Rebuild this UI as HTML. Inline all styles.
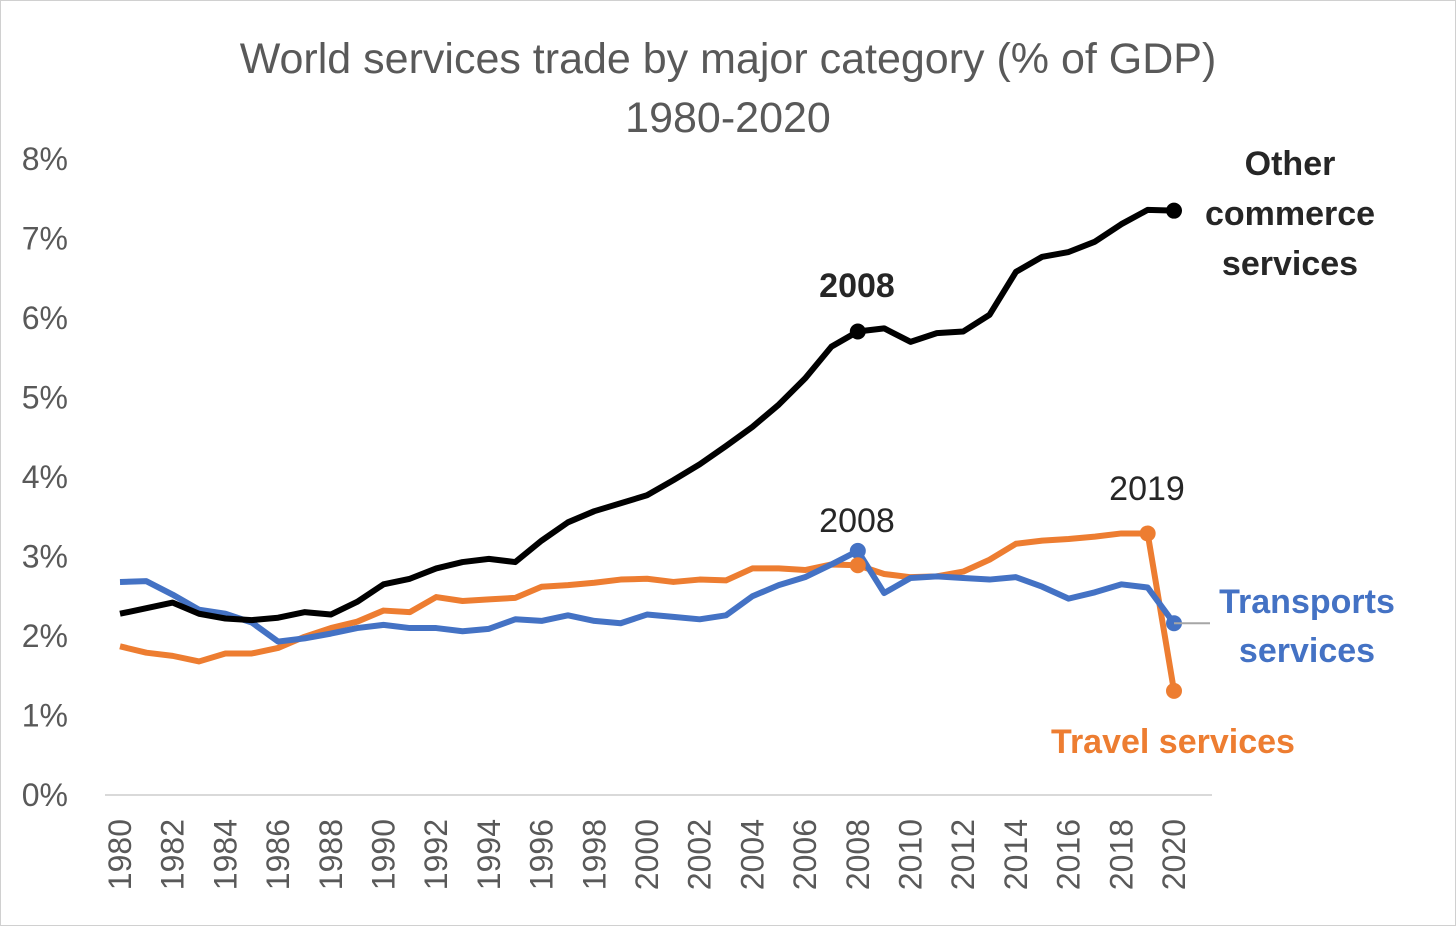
<!DOCTYPE html>
<html><head><meta charset="utf-8"><style>
body{margin:0;background:#fff}
svg text{font-family:"Liberation Sans",sans-serif}
</style></head><body>
<svg id="chart" width="1456" height="926" viewBox="0 0 1456 926" xmlns="http://www.w3.org/2000/svg">
<rect x="0.5" y="0.5" width="1455" height="925" fill="#fff" stroke="#d0d0d0"/>
<text x="728" y="73" text-anchor="middle" font-size="43" fill="#595959">World services trade by major category (% of GDP)</text>
<text x="728" y="132" text-anchor="middle" font-size="43" fill="#595959">1980-2020</text>
<g id="yaxis"></g><g id="xaxis"></g><g id="series"></g><g id="labels"></g>
</svg>
<script>
const years=[];for(let y=1980;y<=2020;y++)years.push(y);
const yTicks=[0,1,2,3,4,5,6,7,8];
const other=[2.28,2.35,2.42,2.28,2.22,2.20,2.23,2.30,2.27,2.43,2.65,2.72,2.85,2.93,2.97,2.93,3.20,3.43,3.57,3.67,3.77,3.96,4.16,4.39,4.63,4.91,5.24,5.64,5.83,5.87,5.70,5.81,5.83,6.04,6.58,6.77,6.83,6.96,7.18,7.36,7.35];
const transport=[2.68,2.69,2.52,2.33,2.28,2.17,1.93,1.97,2.03,2.10,2.14,2.10,2.10,2.06,2.09,2.21,2.19,2.26,2.19,2.16,2.27,2.24,2.21,2.26,2.50,2.64,2.74,2.90,3.07,2.54,2.73,2.75,2.73,2.71,2.74,2.62,2.47,2.55,2.65,2.61,2.16];
const travel=[1.87,1.79,1.75,1.68,1.78,1.78,1.85,1.99,2.10,2.18,2.32,2.30,2.49,2.44,2.46,2.48,2.62,2.64,2.67,2.71,2.72,2.68,2.71,2.70,2.85,2.85,2.83,2.90,2.89,2.78,2.74,2.75,2.81,2.96,3.16,3.20,3.22,3.25,3.29,3.29,1.31];
const NS="http://www.w3.org/2000/svg";
const X=y=>120+(y-1980)*(1174-120)/40;
const Y=v=>795-v*79.5;
function mk(tag,attrs,parent,txt){const e=document.createElementNS(NS,tag);for(const k in attrs)e.setAttribute(k,attrs[k]);if(txt!==undefined)e.textContent=txt;document.getElementById(parent).appendChild(e);return e;}
yTicks.forEach(t=>{const e=mk('text',{x:68,y:Y(t)+11,'text-anchor':'end','font-size':32,fill:'#595959'},'yaxis',t+'%');

});
const ax=mk('line',{x1:105,x2:1212,y1:795,y2:795,stroke:'#d9d9d9','stroke-width':2},'xaxis');


years.filter(y=>y%2===0).forEach(y=>{const e=mk('text',{x:0,y:0,transform:`translate(${X(y)+11},819) rotate(-90)`,'text-anchor':'end','font-size':32,fill:'#595959'},'xaxis',y);

});
function line(data,color,name){const p=mk('polyline',{points:data.map((v,i)=>X(years[i])+','+Y(v)).join(' '),fill:'none',stroke:color,'stroke-width':6,'stroke-linejoin':'round'},'series');

}
line(travel,'#ed7d31','travel-services-line');
line(transport,'#4472c4','transports-services-line');
line(other,'#000','other-commerce-line');
function dot(arr,idx,color,name){const c=mk('circle',{cx:X(years[idx]),cy:Y(arr[idx]),r:8,fill:color},'series');

}
dot(other,28,'#000','other-2008-marker');dot(other,40,'#000','other-2020-marker');
dot(transport,28,'#4472c4','transport-2008-marker');dot(transport,40,'#4472c4','transport-2020-marker');
dot(travel,28,'#ed7d31','travel-2008-marker');dot(travel,39,'#ed7d31','travel-2019-marker');dot(travel,40,'#ed7d31','travel-2020-marker');
const lead=mk('line',{x1:X(2020),x2:1210,y1:Y(transport[40]),y2:Y(transport[40]),stroke:'#a6a6a6','stroke-width':2},'labels');


function lbl(x,y,t,color,bold,name,size){const e=mk('text',{x:x,y:y,'text-anchor':'middle','font-size':size||34,fill:color,'font-weight':bold?'bold':'normal'},'labels',t);

}
lbl(857,297,'2008','#262626',true,'other-2008-label');
lbl(857,532,'2008','#262626',false,'transport-2008-label');
lbl(1147,500,'2019','#262626',false,'travel-2019-label');
lbl(1290,175,'Other','#262626',true,'other-label-line1');
lbl(1290,225,'commerce','#262626',true,'other-label-line2');
lbl(1290,275,'services','#262626',true,'other-label-line3');
lbl(1307,613,'Transports','#4472c4',true,'transport-label-line1');
lbl(1307,662,'services','#4472c4',true,'transport-label-line2');
lbl(1173,753,'Travel services','#ed7d31',true,'travel-label');
</script>
</body></html>
